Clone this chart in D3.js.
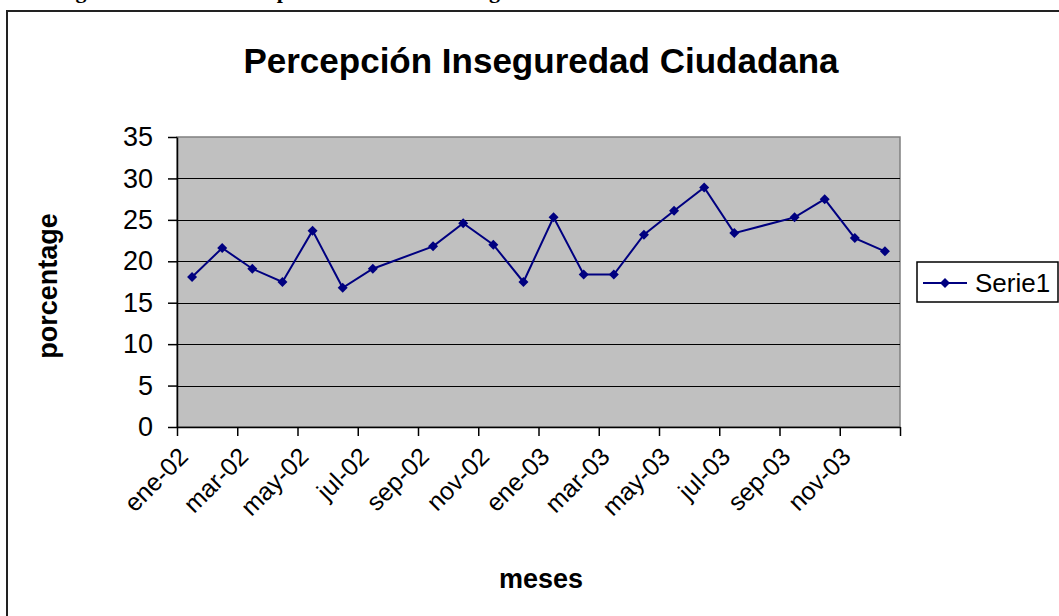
<!DOCTYPE html>
<html>
<head>
<meta charset="utf-8">
<script src="https://cdn.jsdelivr.net/npm/d3@7"></script>
<style>
  body { margin: 0; background: #fff; }
  svg { display: block; }
</style>
</head>
<body>
<svg id="chart" width="1059" height="616"></svg>
<script>
// monthly survey values, ago-02 and ago-03 are missing in the source
const months = ["2002-01", "2002-02", "2002-03", "2002-04", "2002-05", "2002-06", "2002-07",
    "2002-09", "2002-10", "2002-11", "2002-12",
    "2003-01", "2003-02", "2003-03", "2003-04", "2003-05", "2003-06", "2003-07",
    "2003-09", "2003-10", "2003-11", "2003-12"];
const values = [18.1, 21.6, 19.1, 17.5, 23.7, 16.8, 19.1,
    21.8, 24.6, 22.0, 17.5,
    25.3, 18.4, 18.4, 23.2, 26.1, 28.9, 23.4,
    25.3, 27.5, 22.8, 21.2];
const tickLabels = ["ene-02", "mar-02", "may-02", "jul-02", "sep-02", "nov-02",
    "ene-03", "mar-03", "may-03", "jul-03", "sep-03", "nov-03"];
const yTicks = [0, 5, 10, 15, 20, 25, 30, 35];

const font = "'Liberation Sans', Arial, sans-serif";
const plot = { left: 177, right: 900, top: 137, bottom: 427 };

// months counted from ene-02, a point sits in the middle of its month
const monthIndex = (m) => {
    const [yr, mo] = m.split("-").map(Number);
    return (yr - 2002) * 12 + (mo - 1);
};
const points = months.map((m, i) => ({ x: monthIndex(m) + 0.5, v: values[i] }));

const svg = d3.select("#chart");

const x = d3.scaleLinear().domain([0, 24]).range([plot.left, plot.right]);
const y = d3.scaleLinear().domain([0, 35]).range([plot.bottom, plot.top]);

// outer chart frame (runs off the page on the right and bottom)
svg.append("rect")
    .attr("x", 7).attr("y", 11)
    .attr("width", 1200).attr("height", 800)
    .attr("fill", "#fff")
    .attr("stroke", "#222")
    .attr("stroke-width", 2);

// heading of the document, mostly cut off above the picture
svg.append("text")
    .attr("x", 56).attr("y", -2.5)
    .attr("font-family", "'Liberation Serif', 'Times New Roman', serif")
    .attr("font-weight", "bold")
    .attr("font-size", 22)
    .text("Figura 1. Gráfico Percepción acerca de la Inseguridad");

svg.append("text")
    .attr("x", 541).attr("y", 73)
    .attr("text-anchor", "middle")
    .attr("font-family", font)
    .attr("font-weight", "bold")
    .attr("font-size", 35)
    .text("Percepción Inseguredad Ciudadana");

// plot area
svg.append("rect")
    .attr("x", plot.left).attr("y", plot.top)
    .attr("width", plot.right - plot.left)
    .attr("height", plot.bottom - plot.top)
    .attr("fill", "#c0c0c0")
    .attr("stroke", "#808080")
    .attr("stroke-width", 1.5);

svg.append("g")
    .attr("class", "grid")
    .attr("transform", `translate(${plot.left},0)`)
    .call(d3.axisLeft(y).tickValues(yTicks.slice(1, -1)).tickSize(-(plot.right - plot.left)).tickFormat(""))
    .call(g => g.select(".domain").remove())
    .selectAll("line")
    .attr("stroke", "#000")
    .attr("shape-rendering", "crispEdges");

const yAxis = svg.append("g")
    .attr("transform", `translate(${plot.left},0)`)
    .call(d3.axisLeft(y).tickValues(yTicks).tickSize(9).tickPadding(15).tickSizeOuter(0));

yAxis.selectAll("text")
    .attr("font-family", font)
    .attr("font-size", 27)
    .attr("fill", "#000");

const xAxis = svg.append("g")
    .attr("transform", `translate(0,${plot.bottom})`)
    .call(d3.axisBottom(x).tickValues(d3.range(0, 25, 2)).tickSize(9).tickSizeOuter(0).tickFormat(""));

xAxis.selectAll(".tick")
    .filter((d) => d < 24)
    .append("text")
    .attr("transform", "translate(6,25) rotate(-45)")
    .attr("text-anchor", "end")
    .attr("dy", "0.35em")
    .attr("fill", "#000")
    .attr("font-family", font)
    .attr("font-size", 25)
    .text((d) => tickLabels[d / 2]);

svg.selectAll(".domain, .tick line")
    .attr("stroke", "#000")
    .attr("stroke-width", 1.5);
svg.selectAll(".grid line").attr("stroke-width", 1);

// series
const line = d3.line().x((d) => x(d.x)).y((d) => y(d.v));

svg.append("path")
    .datum(points)
    .attr("fill", "none")
    .attr("stroke", "#000080")
    .attr("stroke-width", 2)
    .attr("d", line);

const diamond = d3.symbol().type(d3.symbolSquare).size(50);

svg.selectAll(".marker")
    .data(points)
    .join("path")
    .attr("class", "marker")
    .attr("transform", (d) => `translate(${x(d.x)},${y(d.v)}) rotate(45)`)
    .attr("fill", "#000080")
    .attr("d", diamond);

// axis titles
svg.append("text")
    .attr("transform", "translate(57,286) rotate(-90)")
    .attr("text-anchor", "middle")
    .attr("font-family", font)
    .attr("font-weight", "bold")
    .attr("font-size", 27)
    .text("porcentage");

svg.append("text")
    .attr("x", 541).attr("y", 588)
    .attr("text-anchor", "middle")
    .attr("font-family", font)
    .attr("font-weight", "bold")
    .attr("font-size", 27)
    .text("meses");

// legend
const legend = svg.append("g").attr("transform", "translate(917,262)");

legend.append("rect")
    .attr("width", 141).attr("height", 40)
    .attr("fill", "#fff")
    .attr("stroke", "#000")
    .attr("stroke-width", 1.5);

legend.append("line")
    .attr("x1", 6).attr("x2", 50)
    .attr("y1", 21).attr("y2", 21)
    .attr("stroke", "#000080")
    .attr("stroke-width", 2);

legend.append("path")
    .attr("transform", "translate(28,21) rotate(45)")
    .attr("fill", "#000080")
    .attr("d", diamond);

legend.append("text")
    .attr("x", 58).attr("y", 30)
    .attr("font-family", font)
    .attr("font-size", 26)
    .text("Serie1");
</script>
</body>
</html>
